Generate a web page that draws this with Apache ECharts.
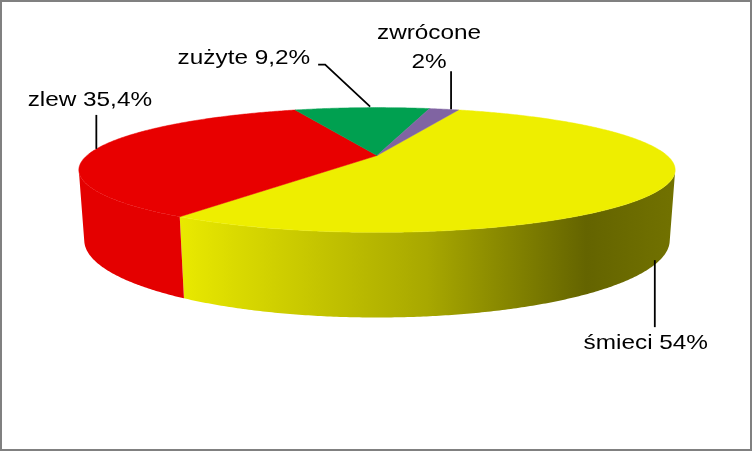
<!DOCTYPE html>
<html><head><meta charset="utf-8">
<script src="https://cdn.jsdelivr.net/npm/echarts@6/dist/echarts.min.js"></script>
<style>html,body{margin:0;padding:0;background:#fff}#c{width:753px;height:451px}</style>
</head><body><div id="c"></div>
<script>
// ---- data ----
const categories = ['śmieci', 'zlew', 'zużyte', 'zwrócone'];
const values = [54, 35.4, 9.2, 2];
const labelTexts = ['śmieci 54%', 'zlew 35,4%', 'zużyte 9,2%', 'zwrócone\n2%'];

// ---- style / view ----
const topColors = ['#EEEE00', '#E80000', '#00A050', '#8064A2'];
const yellowWall = {
  type: 'linear', x: 178, y: 0, x2: 676, y2: 0, global: true,
  colorStops: [
    {offset: 0, color: '#EAEA00'}, {offset: 0.1, color: '#DCDC00'},
    {offset: 0.5, color: '#A8A800'}, {offset: 0.82, color: '#646400'},
    {offset: 1, color: '#727200'}
  ]
};
const wallColors = [yellowWall, '#E40000', '#009048', '#70589A'];
const START = 20 * Math.PI / 180;       // first slice start, clockwise from back
const CX = 377, CY = 155.5, FX = 1211, FY = 993.7;
const D = 1 / 0.2395, SA = 0.248, CA = Math.sqrt(1 - SA * SA), H = 0.296;
const TEXT_SCALE_X = 1.23;
// leader path offsets relative to the slice anchor, and text position/alignment
const labelLayout = [
  {path: [[-6, 1], [-6, 68]], tx: -15, ty: 84, align: 'center'},
  {path: [[0, 0], [0, -34]], tx: -6.5, ty: -48, align: 'center'},
  {path: [[8, -1], [-37, -43], [-44, -43]], tx: -52, ty: -49, align: 'right'},
  {path: [[7, 0], [7, -38]], tx: -15, ty: -61, align: 'center'}
];

function proj(phi, z) {
  const x = Math.sin(phi), y = Math.cos(phi);
  const v = y * SA + z * CA;
  const w = D + y * CA - z * SA;
  return [CX + FX * x / w, CY - FY * v / w];
}
const total = values.reduce((a, b) => a + b, 0);
const starts = [];
let acc = START;
values.forEach(v => { starts.push(acc); acc += v / total * Math.PI * 2; });
const PHI_S = Math.acos(-1 / (D * CA));

function arcPts(a0, a1, z) {
  const n = Math.max(2, Math.ceil(Math.abs(a1 - a0) / (Math.PI / 360)));
  const pts = [];
  for (let k = 0; k <= n; k++) pts.push(proj(a0 + (a1 - a0) * k / n, z));
  return pts;
}

function renderItem(params, api) {
  const i = params.dataIndex;
  const v = api.value(1);
  const a0 = starts[i], a1 = a0 + v / total * Math.PI * 2;
  const children = [];
  // top face
  const topPts = [[CX, CY]].concat(arcPts(a0, a1, 0));
  children.push({type: 'polygon', z2: 10, shape: {points: topPts},
    style: {fill: topColors[i], stroke: topColors[i], lineWidth: 0.5}});
  // visible outer wall
  const w0 = Math.max(a0, PHI_S), w1 = Math.min(a1, 2 * Math.PI - PHI_S);
  if (w1 > w0) {
    const pts = arcPts(w0, w1, 0).concat(arcPts(w1, w0, -H));
    children.push({type: 'polygon', z2: 1, shape: {points: pts},
      style: {fill: wallColors[i], stroke: null}});
  }
  // label
  const mid = (a0 + a1) / 2;
  const anchor = Math.cos(mid) < -1 / (D * CA) ? proj(mid, -H) : proj(mid, 0);
  const L = labelLayout[i];
  children.push({type: 'polyline', z2: 20,
    shape: {points: L.path.map(p => [anchor[0] + p[0], anchor[1] + p[1]])},
    style: {stroke: '#000', lineWidth: 1.8, fill: null}});
  children.push({type: 'text', z2: 21, x: anchor[0] + L.tx, y: anchor[1] + L.ty,
    scaleX: TEXT_SCALE_X,
    style: {text: labelTexts[i], fill: '#000', fontSize: 19.8,
      fontFamily: '"Liberation Sans", Arial, sans-serif',
      align: L.align, verticalAlign: 'middle', lineHeight: 29}});
  return {type: 'group', children};
}

const chart = echarts.init(document.getElementById('c'), null, {renderer: 'canvas'});
chart.setOption({
  animation: false,
  backgroundColor: '#fff',
  graphic: [{type: 'rect', z: 100, shape: {x: 1, y: 1, width: 750, height: 449},
    style: {fill: null, stroke: '#808080', lineWidth: 2}}],
  series: [{
    type: 'custom',
    coordinateSystem: 'none',
    renderItem,
    data: values.map((v, i) => ({name: categories[i], value: [i, v]}))
  }]
});
</script></body></html>
